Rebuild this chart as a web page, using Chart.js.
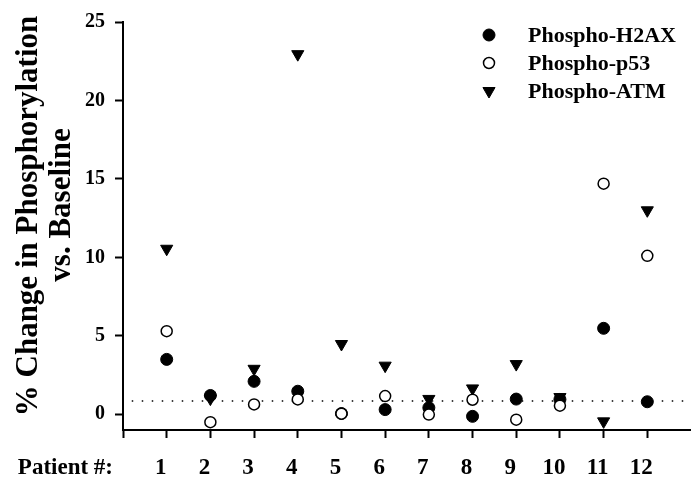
<!DOCTYPE html>
<html>
<head>
<meta charset="utf-8">
<script src="https://cdn.jsdelivr.net/npm/chart.js@4.4.1/dist/chart.umd.min.js"></script>
<style>
body { margin: 0; background: #fff; }
</style>
</head>
<body>
<canvas id="phospho_chart" width="691" height="481"></canvas>
<script>
var patients = [1, 2, 3, 4, 5, 6, 7, 8, 9, 10, 11, 12];
var h2ax = [3.5, 1.2, 2.1, 1.47, 0.05, 0.3, 0.42, -0.13, 0.97, 0.95, 5.48, 0.8];
var p53 = [5.3, -0.5, 0.63, 0.95, 0.04, 1.16, -0.02, 0.93, -0.34, 0.55, 14.7, 10.1];
var atm = [10.55, 1.0, 2.9, 22.95, 4.48, 3.1, 0.98, 1.65, 3.2, 1.1, -0.45, 13.0];
var baseline = 0.85;
var y_ticks = [0, 5, 10, 15, 20, 25];
var x_ticks = [0, 1, 2, 3, 4, 5, 6, 7, 8, 9, 10, 11, 12];
var y_title = ['% Change in Phosphorylation', 'vs. Baseline'];

var serif = "'Liberation Serif', 'Times New Roman', serif";

function toPoints(values) {
    var pts = [];
    for (idx = 0; idx < values.length; idx++) {
        pts.push({x: patients[idx], y: values[idx]});
    }
    return pts;
}

// legend drawn by hand so the marker/text spacing can be set freely
var legendPlugin = {
    id: 'phosphoLegend',
    afterDraw: function(chart) {
        var ctx = chart.ctx;
        var rows = [0, 1, 2];
        ctx.save();
        ctx.font = 'bold 22px ' + serif;
        ctx.textBaseline = 'middle';
        ctx.textAlign = 'left';
        for (var i = 0; i < rows.length; i++) {
            var ds = chart.data.datasets[rows[i]];
            var y = 35 + i * 28;
            ctx.fillStyle = ds.backgroundColor;
            ctx.strokeStyle = ds.borderColor;
            ctx.lineWidth = ds.borderWidth;
            Chart.helpers.drawPoint(ctx, {
                pointStyle: ds.pointStyle,
                rotation: ds.rotation || 0,
                radius: ds.pointRadius,
                borderWidth: ds.borderWidth
            }, 489, y);
            ctx.fillStyle = '#000';
            ctx.fillText(ds.label, 528, y + 1);
        }
        ctx.restore();
    }
};

// "Patient #:" to the left of the x tick labels, plus the two-line y title
var axisText = {
    id: 'axisText',
    afterDraw: function(chart) {
        var ctx = chart.ctx;
        var sx = chart.scales.x;
        ctx.save();
        ctx.fillStyle = '#000';
        ctx.textBaseline = 'middle';

        ctx.font = 'bold 23px ' + serif;
        ctx.textAlign = 'right';
        ctx.fillText('Patient #:', 113, sx.top + 8 + 16 + 23 * 1.2 / 2);

        ctx.font = 'bold 31px ' + serif;
        ctx.textAlign = 'center';
        var centers = [[29, 216], [62, 205]];
        for (var i = 0; i < y_title.length; i++) {
            ctx.save();
            ctx.translate(centers[i][0], centers[i][1]);
            ctx.rotate(-Math.PI / 2);
            ctx.fillText(y_title[i], 0, 0);
            ctx.restore();
        }
        ctx.restore();
    }
};

var ctx = document.getElementById('phospho_chart');
var myChart = new Chart(ctx, {
    type: 'scatter',
    data: {
        datasets: [{
            label: 'Phospho-H2AX',
            data: toPoints(h2ax),
            pointStyle: 'circle',
            pointRadius: 6,
            backgroundColor: '#000',
            borderColor: '#000',
            borderWidth: 1,
            order: 1
        }, {
            label: 'Phospho-p53',
            data: toPoints(p53),
            pointStyle: 'circle',
            pointRadius: 5.5,
            backgroundColor: '#fff',
            borderColor: '#000',
            borderWidth: 1.5,
            order: 0
        }, {
            label: 'Phospho-ATM',
            data: toPoints(atm),
            pointStyle: 'triangle',
            rotation: 180,
            pointRadius: 7,
            backgroundColor: '#000',
            borderColor: '#000',
            borderWidth: 1,
            order: 2
        }, {
            type: 'line',
            label: 'baseline',
            data: [{x: 0.2, y: baseline}, {x: 13, y: baseline}],
            showLine: true,
            borderColor: '#000',
            borderWidth: 1.5,
            borderDash: [1.5, 8.5],
            pointRadius: 0,
            order: 3
        }]
    },
    options: {
        responsive: false,
        animation: false,
        events: [],
        layout: {
            autoPadding: false,
            padding: {top: 20, right: 0, bottom: 0, left: 0}
        },
        plugins: {
            legend: {display: false},
            tooltip: {enabled: false}
        },
        scales: {
            x: {
                type: 'linear',
                min: 0,
                max: 13,
                afterBuildTicks: function(scale) {
                    scale.ticks = x_ticks.map(function(v) { return {value: v}; });
                },
                afterFit: function(scale) {
                    scale.height = 51;
                    scale.paddingLeft = 0;
                    scale.paddingRight = 0;
                },
                border: {display: true, color: '#000', width: 2},
                grid: {
                    drawOnChartArea: false,
                    drawTicks: true,
                    tickLength: 8,
                    tickWidth: 2,
                    tickColor: '#000'
                },
                ticks: {
                    autoSkip: false,
                    maxRotation: 0,
                    padding: 16,
                    labelOffset: -6,
                    color: '#000',
                    font: {family: serif, size: 23, weight: 'bold'},
                    callback: function(v) { return v === 0 ? '' : v; }
                }
            },
            y: {
                min: -1,
                max: 25,
                afterBuildTicks: function(scale) {
                    scale.ticks = y_ticks.map(function(v) { return {value: v}; });
                },
                afterFit: function(scale) { scale.width = 123; },
                border: {display: true, color: '#000', width: 2},
                grid: {
                    drawOnChartArea: false,
                    drawTicks: true,
                    tickLength: 8,
                    tickWidth: 2,
                    tickColor: '#000'
                },
                ticks: {
                    padding: 10,
                    color: '#000',
                    font: {family: serif, size: 20, weight: 'bold'}
                }
            }
        }
    },
    plugins: [legendPlugin, axisText]
});
</script>
</body>
</html>
